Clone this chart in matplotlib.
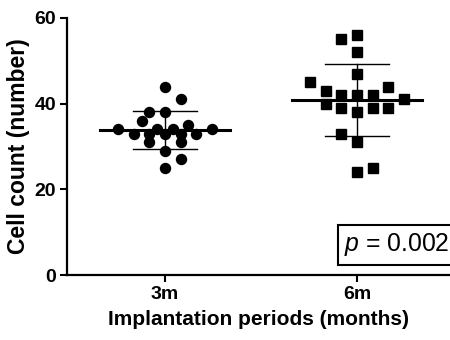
import numpy as np
import matplotlib
matplotlib.use("Agg")
import matplotlib.pyplot as plt

plt.rcParams['font.family'] = ['Liberation Sans', 'DejaVu Sans']
plt.rcParams['mathtext.fontset'] = 'custom'
plt.rcParams['mathtext.rm'] = 'Liberation Sans'
plt.rcParams['mathtext.it'] = 'Liberation Sans:italic'

categories = ["3m", "6m"]
values_3m = [44, 41, 38, 38, 36, 35, 34, 34, 34, 34, 33, 33, 33, 33, 33, 31, 31, 29, 27, 25]
values_6m = [55, 56, 52, 47, 45, 44, 43, 42, 42, 42, 41, 40, 39, 39, 39, 38, 33, 31, 25, 24]
# beeswarm slot index (horizontal layout of points, in marker widths)
slots_3m = [0, 1, -1, 0, -1.5, 1.5, -3, -0.5, 0.5, 3, -2, -1, 0, 1, 2, -1, 1, 0, 1, 0]
slots_6m = [-1, 0, 0, 0, -3, 2, -2, -1, 0, 1, 3, -2, -1, 1, 2, 0, -1, 0, 1, 0]
yticks = [0, 20, 40, 60]
p_text = "= 0.002"

fig = plt.figure(figsize=(4.5, 3.4), dpi=100)
ax = fig.add_axes([67/450, 65/340, 383/450, 257/340])

step = 0.081
groups = [(values_3m, slots_3m, 'o'), (values_6m, slots_6m, 's')]
for i, (vals, slots, mk) in enumerate(groups):
    v = np.array(vals, float)
    xs = i + np.array(slots) * step
    ax.plot(xs, v, linestyle='none', marker=mk, color='black',
            markersize=7.2 if mk == 'o' else 6.8, zorder=3)
    m = v.mean()
    sd = v.std(ddof=1)
    ax.plot([i - 0.34, i + 0.34], [m, m], color='black', lw=2.2, zorder=4)
    ax.plot([i, i], [m - sd, m + sd], color='black', lw=1.0, zorder=2)
    ax.plot([i - 0.168, i + 0.168], [m + sd, m + sd], color='black', lw=1.0, zorder=2)
    ax.plot([i - 0.168, i + 0.168], [m - sd, m - sd], color='black', lw=1.0, zorder=2)

ax.set_xlim(-0.51, 1.484)
ax.set_ylim(0, 60)
ax.set_xticks([0, 1])
ax.set_xticklabels(categories, fontsize=14, fontweight='bold')
ax.set_yticks(yticks)
ax.set_yticklabels([str(t) for t in yticks], fontsize=14, fontweight='bold')
ax.tick_params(axis='both', width=1.5, length=5, pad=3)
for s in ['top', 'right']:
    ax.spines[s].set_visible(False)
for s in ['left', 'bottom']:
    ax.spines[s].set_linewidth(1.6)

ax.set_xlabel("Implantation periods (months)", fontsize=15, fontweight='bold', labelpad=5)
ax.set_ylabel("Cell count (number)", fontsize=16.5, fontweight='bold', labelpad=3)

ax.text(344/450, 95/340, r"$p$ " + p_text, transform=fig.transFigure,
        ha='left', va='center', fontsize=17.8,
        bbox=dict(boxstyle='square,pad=0.25', facecolor='white', edgecolor='black', lw=1.5))

fig.savefig("out.png", dpi=100)
